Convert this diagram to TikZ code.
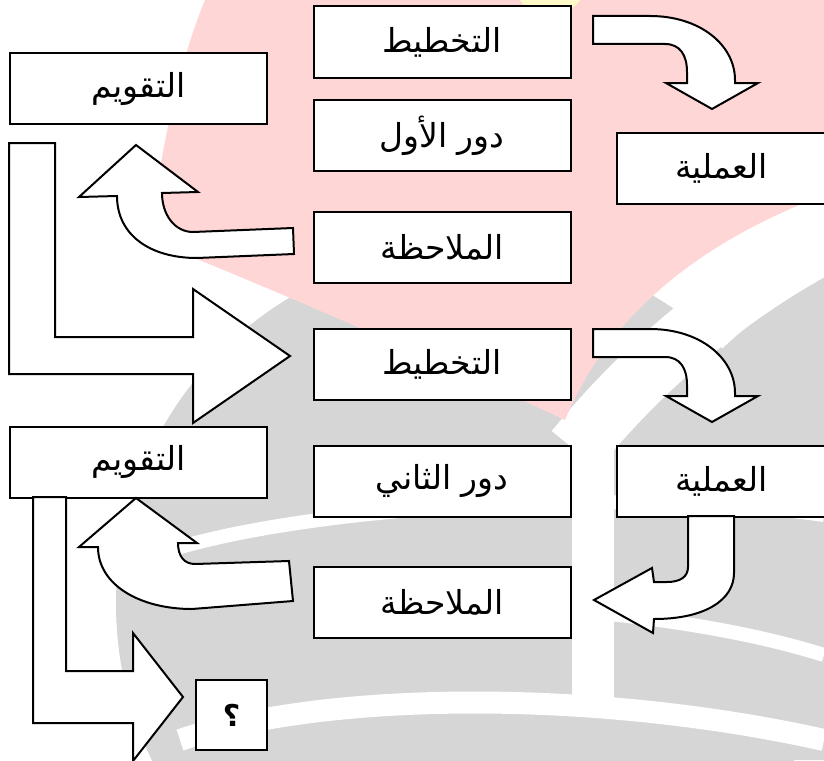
\documentclass[tikz,border=0pt]{standalone}
\usepackage{fontspec}
\newfontfamily\arabicfont[Script=Arabic]{DejaVu Sans}
\TeXXeTstate=1
\definecolor{merahmuda}{RGB}{255,214,214}
\definecolor{abu}{RGB}{214,214,214}
\definecolor{kuning}{RGB}{255,250,200}

\tikzset{
  kotak/.style={draw, line width=2pt, fill=white, minimum width=257pt, minimum height=71pt, inner sep=0pt, font=\arabicfont\fontsize{33}{38}\selectfont},
  panah/.style={draw, line width=2pt, fill=white, line join=miter}
}

\begin{document}
\begin{tikzpicture}[x=1pt,y=-1pt]
\useasboundingbox (0,0) rectangle (824,760);
\begin{scope}
\clip (0,0) rectangle (824,760);
\fill[abu] (473,604) circle (357);
\fill[abu] (590,520) .. controls (650,410) and (740,320) .. (824,272) -- (824,760) -- (590,760) -- cycle;
\draw[white, line width=60pt] (575,450) .. controls (640,370) and (730,290) .. (840,235);
\fill[merahmuda] (205,0) -- (824,0) -- (824,195) .. controls (720,235) and (615,300) .. (565,420) .. controls (480,380) and (300,300) .. (150,240) .. controls (160,150) and (180,60) .. (205,0);
\fill[kuning] (520,0) .. controls (530,18) and (570,18) .. (580,0);
\draw[white, line width=42pt] (593,440) -- (593,710);
\draw[white, line width=14pt] (140,560) .. controls (300,500) and (650,490) .. (824,515);
\draw[white, line width=14pt] (570,610) .. controls (680,620) and (760,635) .. (824,655);
\draw[white, line width=22pt] (180,740) .. controls (330,690) and (600,690) .. (824,740);
\end{scope}

\node[kotak] (taqwim1) at (138.5,88.5) {\beginR التقويم\endR};
\node[kotak] (takhtit1) at (442,42) {\beginR التخطيط\endR};
\node[kotak] (dawr1) at (442,135.5) {\beginR دور الأول\endR};
\node[kotak] (mulahaza1) at (442,247.5) {\beginR الملاحظة\endR};
\node[kotak, minimum width=209pt] (amaliya1) at (721.5,168) {\beginR العملية\endR};

\node[kotak] (takhtit2) at (442,364) {\beginR التخطيط\endR};
\node[kotak] (taqwim2) at (138.5,462) {\beginR التقويم\endR};
\node[kotak] (dawr2) at (442,481) {\beginR دور الثاني\endR};
\node[kotak, minimum width=209pt] (amaliya2) at (721.5,481) {\beginR العملية\endR};
\node[kotak] (mulahaza2) at (442,602.5) {\beginR الملاحظة\endR};
\node[kotak, minimum width=71pt, minimum height=70pt, font=\arabicfont\bfseries\fontsize{30}{34}\selectfont] (tanya) at (231.5,715) {\beginR ؟\endR};

\draw[panah] (593,16) -- (650,16) .. controls (700,16) and (735,45) .. (735,80) -- (735,83) -- (758,83) -- (712,109) -- (666,83) -- (687,83) -- (687,72) .. controls (687,55) and (680,44) .. (665,44) -- (593,44) -- cycle;
\begin{scope}[yshift=-313pt]
\draw[panah] (593,16) -- (650,16) .. controls (700,16) and (735,45) .. (735,80) -- (735,83) -- (758,83) -- (712,109) -- (666,83) -- (687,83) -- (687,72) .. controls (687,55) and (680,44) .. (665,44) -- (593,44) -- cycle;
\end{scope}

\draw[panah] (9,143) -- (55,143) -- (55,337) -- (193,337) -- (193,289) -- (290,356) -- (193,423) -- (193,374) -- (9,374) -- cycle;
\draw[panah] (33,497) -- (66,497) -- (66,671) -- (133,671) -- (133,633) -- (183,697) -- (133,761) -- (133,723) -- (33,723) -- cycle;

\draw[panah] (293,228) -- (294,254) -- (197,258) .. controls (150,258) and (117,235) .. (117,196) -- (79,197) -- (136,145) -- (198,192) -- (162,193) .. controls (162,215) and (175,232) .. (193,232) -- cycle;
\draw[panah] (289,561) -- (293,601) -- (192,609) .. controls (140,609) and (98,585) .. (98,547) -- (79,547) -- (136,498) -- (197,543) -- (178,543) .. controls (178,556) and (184,564) .. (195,564) -- cycle;

\draw[panah] (688,516) -- (734,516) -- (734,573) .. controls (734,600) and (705,619) .. (654,619) -- (653,633) -- (594,600) -- (652,568) -- (654,582) -- (667,582) .. controls (680,582) and (688,577) .. (688,567) -- cycle;
\end{tikzpicture}
\end{document}
